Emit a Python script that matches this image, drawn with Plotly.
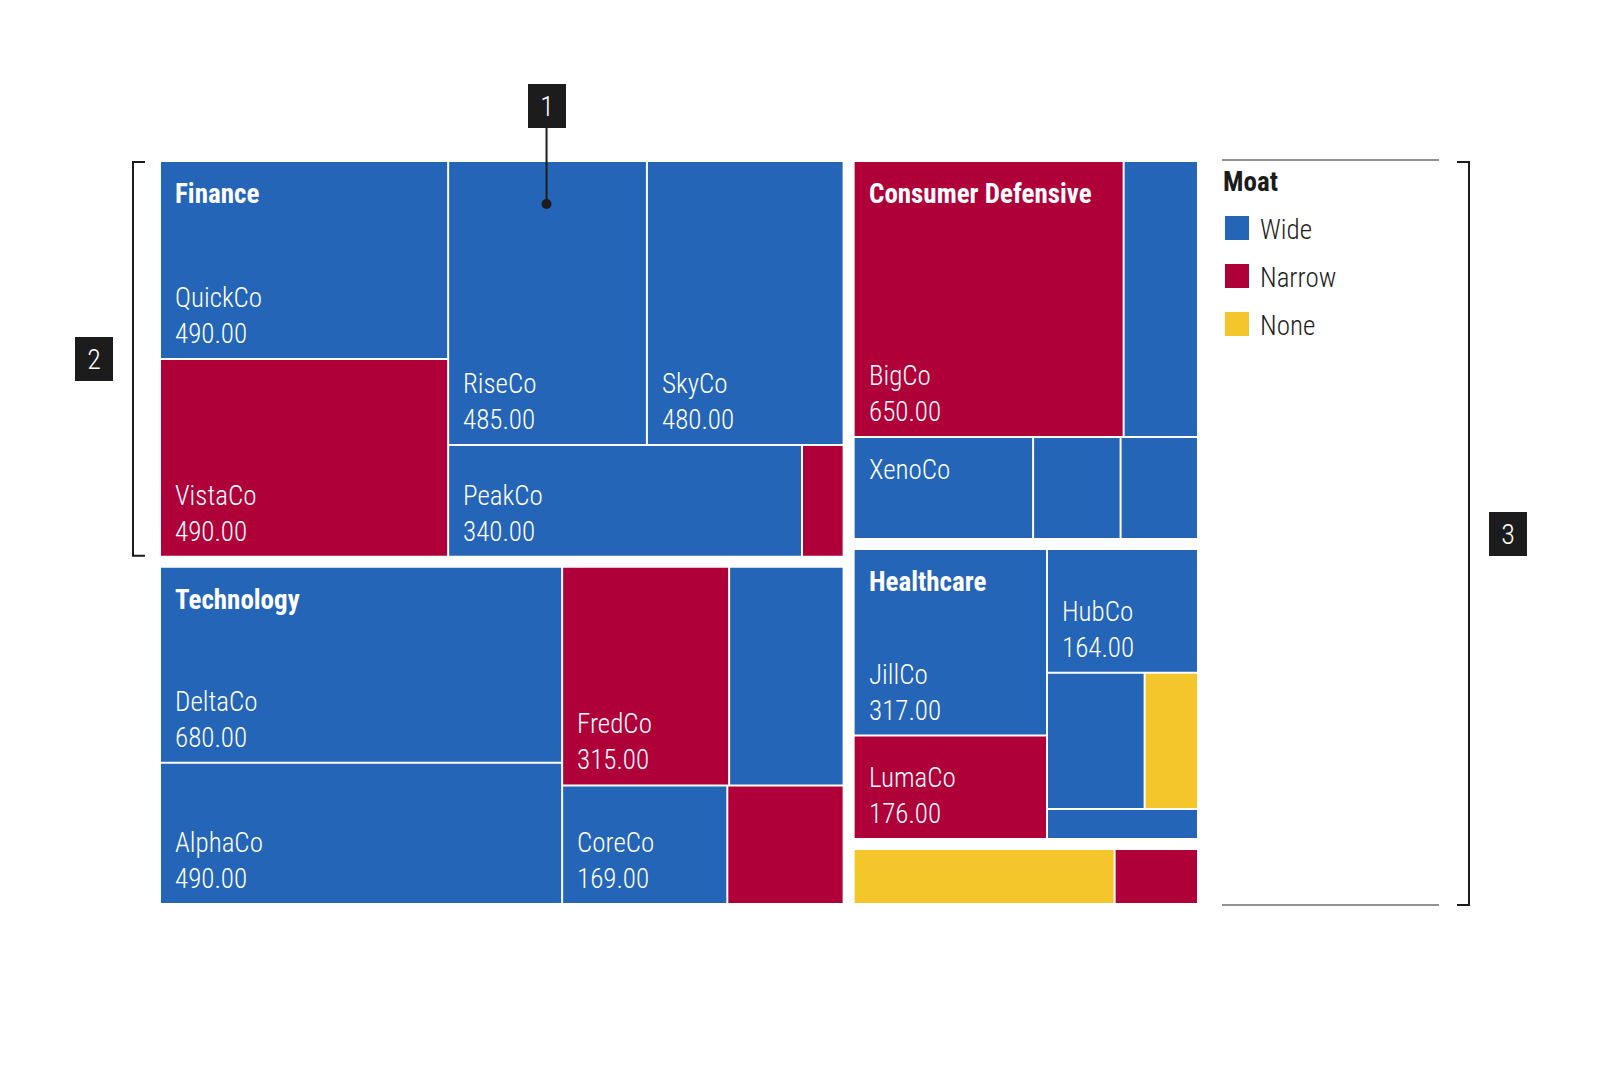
import plotly.graph_objects as go

# ---------------- data ----------------
sector_names = ["Finance", "Technology", "Consumer Defensive", "Healthcare", ""]

finance_companies = ["QuickCo", "VistaCo", "RiseCo", "SkyCo", "PeakCo", ""]
finance_values = [490, 490, 485, 480, 340, 40]
finance_moats = ["Wide", "Narrow", "Wide", "Wide", "Wide", "Narrow"]

technology_companies = ["DeltaCo", "AlphaCo", "FredCo", "", "CoreCo", ""]
technology_values = [680, 490, 315, 216, 169, 119]
technology_moats = ["Wide", "Wide", "Narrow", "Wide", "Wide", "Narrow"]

consumer_companies = ["BigCo", "", "XenoCo", "", ""]
consumer_values = [650, 179, 160, 78, 69]
consumer_moats = ["Narrow", "Wide", "Wide", "Wide", "Wide"]

healthcare_companies = ["JillCo", "LumaCo", "HubCo", "", "", ""]
healthcare_values = [317, 176, 164, 117, 64, 40]
healthcare_moats = ["Wide", "Narrow", "Wide", "Wide", "None", "Wide"]

other_companies = ["", ""]
other_values = [144, 46]
other_moats = ["None", "Narrow"]

moat_categories = ["Wide", "Narrow", "None"]
legend_title = "Moat"
callout_labels = ["1", "2", "3"]

# ---------------- style ----------------
MOAT_COLORS = {"Wide": "#2465B8", "Narrow": "#B0003A", "None": "#F4C62B"}
FONT = "Liberation Sans Narrow, Roboto Condensed, DejaVu Sans Condensed, Arial Narrow, sans-serif"
INK = "#1c1c1c"
W, H = 1600, 1066

ROOT = (161.0, 162.0, 1197.0, 903.0)   # treemap drawing area (px)
SECTOR_GAP = 12.0
TILE_GAP = 2.0
PHI = (1 + 5 ** 0.5) / 2

TEXT_PAD_X = 14
VALUE_BASE_FROM_BOTTOM = 14
LINE_GAP = 36
TITLE_BASE_FROM_TOP = 42
CAP_HALF = 10
MIN_H_TWO_LINES = 101
LABEL_SIZE = 27

SECTORS = [
    (sector_names[0], finance_companies, finance_values, finance_moats),
    (sector_names[1], technology_companies, technology_values, technology_moats),
    (sector_names[2], consumer_companies, consumer_values, consumer_moats),
    (sector_names[3], healthcare_companies, healthcare_values, healthcare_moats),
    (sector_names[4], other_companies, other_values, other_moats),
]


# ---------------- squarified treemap (d3-style, ratio = phi) ----------------
def squarify(values, x0, y0, x1, y1, ratio=PHI):
    n = len(values)
    rects = [None] * n
    value = float(sum(values))
    i0 = i1 = 0
    while i0 < n:
        dx, dy = x1 - x0, y1 - y0
        sum_v = values[i1]
        i1 += 1
        min_v = max_v = sum_v
        alpha = max(dy / dx, dx / dy) / (value * ratio)
        beta = sum_v * sum_v * alpha
        min_ratio = max(max_v / beta, beta / min_v)
        while i1 < n:
            nv = values[i1]
            sum_v += nv
            min_v = min(min_v, nv)
            max_v = max(max_v, nv)
            beta = sum_v * sum_v * alpha
            new_ratio = max(max_v / beta, beta / min_v)
            if new_ratio > min_ratio:
                sum_v -= nv
                break
            min_ratio = new_ratio
            i1 += 1
        if dx < dy:
            y_next = y0 + dy * sum_v / value
            k = (x1 - x0) / sum_v
            x = x0
            for j in range(i0, i1):
                rects[j] = (x, y0, x + values[j] * k, y_next)
                x += values[j] * k
            y0 = y_next
        else:
            x_next = x0 + dx * sum_v / value
            k = (y1 - y0) / sum_v
            y = y0
            for j in range(i0, i1):
                rects[j] = (x0, y, x_next, y + values[j] * k)
                y += values[j] * k
            x0 = x_next
        value -= sum_v
        i0 = i1
    return rects


def padded_tiles(values, box, gap):
    p = gap / 2.0
    order = sorted(range(len(values)), key=lambda i: -values[i])
    vals = [values[i] for i in order]
    rects = squarify(vals, box[0] - p, box[1] - p, box[2] + p, box[3] + p)
    out = [None] * len(values)
    for k, i in enumerate(order):
        a, b, c, d = rects[k]
        out[i] = (a + p, b + p, c - p, d - p)
    return out


sector_totals = [sum(s[2]) for s in SECTORS]
sector_boxes = padded_tiles(sector_totals, ROOT, SECTOR_GAP)
leaf_boxes = [padded_tiles(s[2], sb, TILE_GAP) for s, sb in zip(SECTORS, sector_boxes)]

shapes = []
annotations = []


def text(x, y, s, size=LABEL_SIZE, weight=300, color="white", anchor="left"):
    annotations.append(dict(
        x=x, y=y, xref="x", yref="y", text=s, showarrow=False,
        xanchor=anchor, yanchor="middle", borderpad=0, borderwidth=0,
        font=dict(family=FONT, size=size, color=color, weight=weight),
    ))


# ---------------- tiles ----------------
for (sname, comps, vals, moats), sbox, boxes in zip(SECTORS, sector_boxes, leaf_boxes):
    for comp, v, m, (x0, y0, x1, y1) in zip(comps, vals, moats, boxes):
        shapes.append(dict(type="rect", xref="x", yref="y", x0=x0, y0=y0, x1=x1, y1=y1,
                           fillcolor=MOAT_COLORS[m], line=dict(width=0), layer="below"))
        if comp:
            h = y1 - y0
            if h >= MIN_H_TWO_LINES:
                vb = y1 - VALUE_BASE_FROM_BOTTOM
                text(x0 + TEXT_PAD_X, vb - CAP_HALF, f"{v:.2f}")
                text(x0 + TEXT_PAD_X, vb - LINE_GAP - CAP_HALF, comp)
            else:
                text(x0 + TEXT_PAD_X, y0 + TITLE_BASE_FROM_TOP - CAP_HALF, comp)
    if sname:
        text(sbox[0] + TEXT_PAD_X, sbox[1] + TITLE_BASE_FROM_TOP - CAP_HALF, sname, weight=700)

# ---------------- legend ----------------
LEG_X0, LEG_X1 = 1222, 1439
LEG_TOP, LEG_BOT = ROOT[1] - 2, ROOT[3] + 2
for yy in (LEG_TOP, LEG_BOT):
    shapes.append(dict(type="line", xref="x", yref="y", x0=LEG_X0, x1=LEG_X1, y0=yy, y1=yy,
                       line=dict(color="#6e6e6e", width=1.5)))
text(LEG_X0 + 1, LEG_TOP + 22, legend_title, size=27, weight=700, color=INK)
sw_x = LEG_X0 + 15
sw_y = [LEG_TOP + 68 + 48 * i for i in range(len(moat_categories))]
for cat, yy in zip(moat_categories, sw_y):
    text(LEG_X0 + 38, yy + 1.5, cat, size=LABEL_SIZE, color=INK)

# ---------------- callouts ----------------
BOX_W, BOX_H = 38, 44


def badge(x, y, s):
    annotations.append(dict(
        x=x, y=y, xref="x", yref="y", text=s, showarrow=False, xanchor="center", yanchor="middle",
        width=BOX_W, height=BOX_H, bgcolor=INK, borderpad=0, borderwidth=0,
        font=dict(family=FONT, size=28, color="white", weight=300),
    ))


# 1: points at RiseCo tile
rx0, ry0, rx1, ry1 = leaf_boxes[0][2]
cx = (rx0 + rx1) / 2 - 1
dot_y = ry0 + TITLE_BASE_FROM_TOP
badge_y = ROOT[1] - 56
shapes.append(dict(type="line", xref="x", yref="y", x0=cx, x1=cx, y0=badge_y + BOX_H / 2, y1=dot_y,
                   line=dict(color=INK, width=2)))
shapes.append(dict(type="circle", xref="x", yref="y", x0=cx - 5, x1=cx + 5, y0=dot_y - 5, y1=dot_y + 5,
                   fillcolor=INK, line=dict(width=0)))
badge(cx, badge_y, callout_labels[0])

# 2: bracket spanning the Finance sector
fb = sector_boxes[0]
bx = fb[0] - 28
shapes.append(dict(type="path", xref="x", yref="y",
                   path=f"M{bx + 12},{fb[1]} H{bx} V{fb[3]} H{bx + 12}",
                   line=dict(color=INK, width=2)))
badge(bx - 39, (fb[1] + fb[3]) / 2, callout_labels[1])

# 3: bracket spanning the whole chart
b3 = LEG_X1 + 30
shapes.append(dict(type="path", xref="x", yref="y",
                   path=f"M{b3 - 12},{ROOT[1]} H{b3} V{LEG_BOT} H{b3 - 12}",
                   line=dict(color=INK, width=2)))
badge(b3 + 39, (ROOT[1] + LEG_BOT) / 2, callout_labels[2])

# ---------------- figure ----------------
fig = go.Figure()
fig.add_trace(go.Scatter(
    x=[sw_x] * len(moat_categories), y=sw_y, mode="markers",
    marker=dict(symbol="square", size=24, color=[MOAT_COLORS[c] for c in moat_categories],
                line=dict(width=0)),
    hoverinfo="skip", showlegend=False,
))
fig.update_layout(
    width=W, height=H, margin=dict(l=0, r=0, t=0, b=0),
    paper_bgcolor="white", plot_bgcolor="white",
    xaxis=dict(range=[0, W], visible=False, fixedrange=True),
    yaxis=dict(range=[H, 0], visible=False, fixedrange=True),
    shapes=shapes, annotations=annotations, showlegend=False,
    font=dict(family=FONT),
)
fig.write_html("out.html", config={"displayModeBar": False})
